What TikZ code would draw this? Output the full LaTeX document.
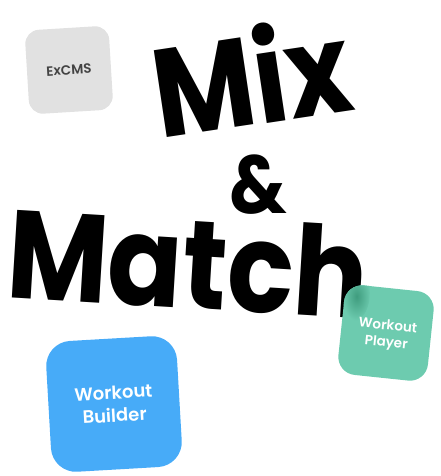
\documentclass[tikz,border=0pt]{standalone}
\usepackage{fontspec}
\setmainfont{Poppins}
\newfontfamily\popsemi{Poppins SemiBold}
\definecolor{cmsgray}{HTML}{E1E1E1}
\definecolor{cmstext}{HTML}{434343}
\definecolor{builderblue}{HTML}{47ABF8}
\definecolor{playergreen}{HTML}{6DCBAF}
\definecolor{playerdark}{HTML}{3F9C7E}
\begin{document}
\begin{tikzpicture}[x=1pt,y=-1pt,
  bigword/.style={inner sep=0pt, anchor=base west, font=\fontsize{125}{125}\selectfont\bfseries},
  tile/.style={inner sep=0pt, align=center, text=white}]
\useasboundingbox (0,0) rectangle (440,476);
% ExCMS tile
\node[tile, fill=cmsgray, text=cmstext, minimum size=84pt, rounded corners=14pt, rotate=3.5,
      font=\fontsize{13.5}{16}\selectfont\popsemi] (excms) at (69,70) {ExCMS};
% words
\node[bigword, rotate=8.5, xscale=0.88] (mix) at (160,139) {Mix};
\node[inner sep=0pt, anchor=base, xscale=0.88, font=\fontsize{82}{82}\selectfont\bfseries] (amp) at (258,213) {\&};
\node[bigword, rotate=-3.5, xscale=0.88] (match) at (5,297) {Match};
% Workout Player tile
\node[fill=playergreen, minimum size=90pt, rounded corners=18pt, rotate=-6] (playerbox) at (386,333) {};
\begin{scope}[shift={(386,333)}, rotate=-6]
  \clip[rounded corners=18pt] (-45,-45) rectangle (45,45);
  \shade[inner color=playerdark, outer color=playergreen] (-33,-33) ellipse (13pt and 24pt);
\end{scope}
\node[tile, rotate=-6, font=\fontsize{13.5}{17}\selectfont\popsemi] (player) at (387,335) {Workout\\Player};
% Workout Builder tile
\node[tile, fill=builderblue, minimum size=131pt, rounded corners=25pt, rotate=3.3,
      font=\fontsize{18}{23}\selectfont\popsemi] (builder) at (114,404) {Workout\\Builder};
\end{tikzpicture}
\end{document}
